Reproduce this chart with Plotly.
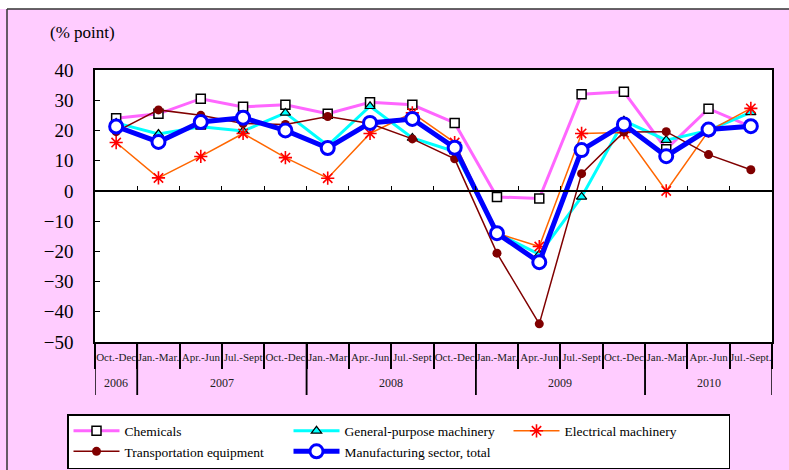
import plotly.graph_objects as go

# Quarter labels and year groups along the category axis
quarters = ["Oct.-Dec", "Jan.-Mar.", "Apr.-Jun", "Jul.-Sept", "Oct.-Dec",
            "Jan.-Mar", "Apr.-Jun", "Jul.-Sept", "Oct.-Dec", "Jan.-Mar.",
            "Apr.-Jun", "Jul.-Sept", "Oct.-Dec", "Jan.-Mar", "Apr.-Jun", "Jul.-Sept."]
years = ["2006", "2007", "2008", "2009", "2010"]
year_spans = [(0, 0), (1, 4), (5, 8), (9, 12), (13, 15)]

# Series values (% point)
chemicals = [24.0, 25.5, 30.5, 27.8, 28.5, 25.5, 29.3, 28.5, 22.5,
             -2.0, -2.5, 32.0, 32.8, 13.8, 27.2, 21.3]
general_purpose = [22.5, 18.8, 21.2, 19.8, 25.8, 15.0, 28.0, 17.5, 13.0,
                   -14.0, -21.0, -2.0, 23.2, 16.8, 20.0, 26.0]
electrical = [16.0, 4.3, 11.4, 19.0, 11.0, 4.2, 19.0, 25.8, 16.0,
              -14.0, -18.4, 19.0, 19.3, 0.0, 19.8, 27.3]
transportation = [19.6, 26.8, 25.0, 22.3, 22.0, 24.6, 22.3, 17.2, 10.6,
                  -20.6, -44.0, 5.7, 19.5, 19.6, 12.0, 7.0]
manufacturing = [21.3, 16.2, 22.8, 24.2, 20.0, 14.2, 22.5, 23.8, 14.3,
                 -14.0, -23.6, 13.5, 22.0, 11.5, 20.3, 21.4]

PINK = "#FFCCFF"
SERIF = "Liberation Serif"

x = list(range(len(quarters)))

fig = go.Figure()

fig.add_trace(go.Scatter(
    x=x, y=chemicals, name="Chemicals", mode="lines+markers",
    line=dict(color="#FF66FF", width=3),
    marker=dict(symbol="square", size=9, color="white",
                line=dict(color="black", width=1.5))))
fig.add_trace(go.Scatter(
    x=x, y=general_purpose, name="General-purpose machinery", mode="lines+markers",
    line=dict(color="#00FFFF", width=3),
    marker=dict(symbol="triangle-up", size=9, color="#00FFFF",
                line=dict(color="black", width=1.2))))
fig.add_trace(go.Scatter(
    x=x, y=electrical, name="Electrical machinery", mode="lines+markers",
    line=dict(color="#FF6600", width=1.5),
    marker=dict(symbol="asterisk-open", size=11, color="#FF0000",
                line=dict(color="#FF0000", width=1.6))))
fig.add_trace(go.Scatter(
    x=x, y=transportation, name="Transportation equipment", mode="lines+markers",
    line=dict(color="#800000", width=1.5),
    marker=dict(symbol="circle", size=9, color="#800000")))
fig.add_trace(go.Scatter(
    x=x, y=manufacturing, name="Manufacturing sector, total", mode="lines+markers",
    line=dict(color="#0000FF", width=5),
    marker=dict(symbol="circle", size=13, color="white",
                line=dict(color="#0000FF", width=3))))

# helper trace so the zero-level category axis is drawn
fig.add_trace(go.Scatter(x=[None], y=[None], xaxis="x2", showlegend=False,
                         hoverinfo="skip"))

xr = [-0.5, len(quarters) - 0.5]
boundaries = [i - 0.5 for i in range(len(quarters) + 1)]

shapes = []
# white strip above the pink panel and the panel border
shapes.append(dict(type="rect", xref="paper", yref="paper",
                   x0=-0.2, x1=1.1, y0=(342 - 9) / 272, y1=1.4,
                   fillcolor="white", line=dict(width=0), layer="below"))
shapes.append(dict(type="line", xref="paper", yref="paper",
                   x0=(7 - 95) / 677, x1=1.1, y0=(342 - 9) / 272, y1=(342 - 9) / 272,
                   line=dict(color="#333333", width=1.5), layer="below"))
shapes.append(dict(type="line", xref="paper", yref="paper",
                   x0=(7 - 95) / 677, x1=(7 - 95) / 677, y0=-0.6, y1=(342 - 9) / 272,
                   line=dict(color="#333333", width=1.5), layer="below"))
# year separators below the axis
for a, b in year_spans:
    for edge in (a - 0.5, b + 0.5):
        shapes.append(dict(type="line", xref="x", yref="paper",
                           x0=edge, x1=edge, y0=0, y1=-53 / 272,
                           line=dict(color="black", width=1.5)))

annotations = [dict(text="(% point)", xref="paper", yref="paper",
                    x=(48 - 95) / 677, y=(342 - 32) / 272,
                    xanchor="left", yanchor="middle", showarrow=False,
                    font=dict(family=SERIF, size=17, color="black"))]
for yr, (a, b) in zip(years, year_spans):
    annotations.append(dict(text=yr, xref="x", yref="paper",
                            x=(a + b) / 2, y=(342 - 383) / 272,
                            xanchor="center", yanchor="middle", showarrow=False,
                            font=dict(family=SERIF, size=12, color="#222222")))

fig.update_layout(
    width=789, height=470,
    margin=dict(l=95, r=17, t=70, b=128, autoexpand=False),
    paper_bgcolor=PINK, plot_bgcolor="white",
    font=dict(family=SERIF, color="black"),
    shapes=shapes, annotations=annotations,
    xaxis=dict(range=xr, tickmode="array", tickvals=x, ticktext=quarters,
               ticks="", showline=True, linecolor="black", linewidth=1.5,
               mirror=True, showgrid=False, zeroline=False,
               tickfont=dict(family=SERIF, size=11, color="#222222"),
               tickangle=0, ticklabelstandoff=4,
               minor=dict(tickmode="array", tickvals=boundaries, ticks="outside",
                          ticklen=25, tickcolor="black", tickwidth=1.5)),
    xaxis2=dict(range=xr, overlaying="x", anchor="free", position=50 / 90,
                side="bottom", showline=True, linecolor="black", linewidth=1.5,
                tickmode="array", tickvals=boundaries, ticks="inside",
                ticklen=4, tickwidth=1.2, tickcolor="black",
                showticklabels=False, showgrid=False, zeroline=False),
    yaxis=dict(range=[-50, 40], tickmode="array",
               tickvals=list(range(-50, 41, 10)),
               ticks="inside", ticklen=5, tickwidth=1.2, tickcolor="black",
               showline=True, linecolor="black", linewidth=1.5, mirror=True,
               showgrid=False, zeroline=False, ticklabelstandoff=16,
               tickfont=dict(family=SERIF, size=19, color="black")),
    legend=dict(orientation="h", x=(67 - 95) / 677, y=(342 - 414) / 272,
                xanchor="left", yanchor="top",
                bgcolor="white", bordercolor="black", borderwidth=1.5,
                entrywidth=159, entrywidthmode="pixels", itemwidth=46,
                font=dict(family=SERIF, size=13.5, color="black"),
                itemsizing="trace", tracegroupgap=0),
    showlegend=True,
)

fig.write_html("out.html")
